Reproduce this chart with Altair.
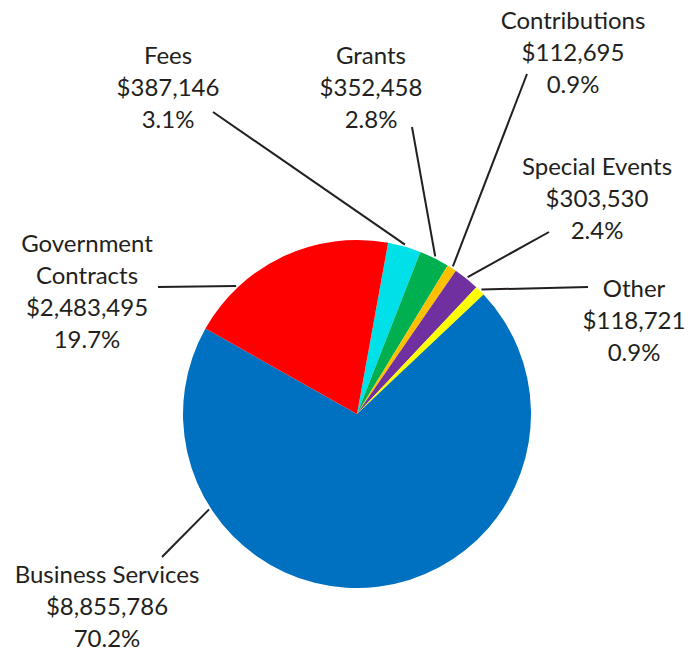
import math
import altair as alt
import pandas as pd

# ---- data ----
categories = ["Fees", "Grants", "Contributions", "Special Events", "Other",
              "Business Services", "Government Contracts"]
amounts = [387146, 352458, 112695, 303530, 118721, 8855786, 2483495]
percent_labels = ["3.1%", "2.8%", "0.9%", "2.4%", "0.9%", "70.2%", "19.7%"]
name_labels = ["Fees", "Grants", "Contributions", "Special Events", "Other",
               "Business Services", "Government\nContracts"]
colors = ["#00E0E8", "#00B050", "#FFC000", "#7030A0", "#FFFF00", "#0070C0", "#FF0000"]

# ---- layout (chart pixel space) ----
W, H = 679, 643
CX, CY, R = 349, 406, 174
START_DEG = 10.3
# label anchor: centre x, first baseline y
label_x = [160, 363, 565, 589, 626, 99, 79]
label_y = [56, 56, 21, 167, 289, 575, 244]
# leader outer end
lead_x = [205, 404, 519, 541, 580, 154, 150]
lead_y = [104, 119, 66, 224, 279, 549, 279]
# leader inner angle overrides (deg clockwise from top); None -> slice middle
lead_angle = [None, None, None, None, None, 237.2, 316.6]

total = sum(amounts)
cum = 0.0
rows = []
for i, (c, a) in enumerate(zip(categories, amounts)):
    mid = START_DEG + 360.0 * (cum + a / 2) / total
    cum += a
    ang = lead_angle[i] if lead_angle[i] is not None else mid
    rad = math.radians(ang)
    rows.append(dict(
        idx=i, category=c, amount=a,
        label=f"{name_labels[i]}\n${a:,}\n{percent_labels[i]}",
        lx=label_x[i], ly=label_y[i],
        ox=lead_x[i], oy=lead_y[i],
        ix=CX + (R + 2) * math.sin(rad), iy=CY - (R + 2) * math.cos(rad),
    ))
df = pd.DataFrame(rows)

xs = alt.Scale(domain=[0, W], nice=False, zero=False)
ys = alt.Scale(domain=[0, H], nice=False, zero=False, reverse=True)

start = math.radians(START_DEG)
pie = alt.Chart(df).mark_arc(outerRadius=R, stroke=None).encode(
    theta=alt.Theta("amount:Q", stack=True,
                    scale=alt.Scale(range=[start, start + 2 * math.pi])),
    color=alt.Color("category:N", scale=alt.Scale(domain=categories, range=colors), legend=None),
    order=alt.Order("idx:Q"),
    x=alt.value(CX), y=alt.value(CY),
)

leaders = alt.Chart(df).mark_rule(color="#231F20", strokeWidth=2).encode(
    x=alt.X("ox:Q", scale=xs, axis=None),
    y=alt.Y("oy:Q", scale=ys, axis=None),
    x2="ix:Q", y2="iy:Q",
)

labels = alt.Chart(df).mark_text(
    font="Lato", fontSize=24, color="#231F20", lineBreak="\n", lineHeight=32,
    align="center", baseline="alphabetic",
).encode(
    x=alt.X("lx:Q", scale=xs, axis=None),
    y=alt.Y("ly:Q", scale=ys, axis=None),
    text="label:N",
)

chart = alt.layer(pie, leaders, labels).properties(
    width=W, height=H, padding=0,
    autosize=alt.AutoSizeParams(type="none"),
).configure_view(stroke=None)

chart.save("out.html", embed_options={"renderer": "svg", "actions": False})
